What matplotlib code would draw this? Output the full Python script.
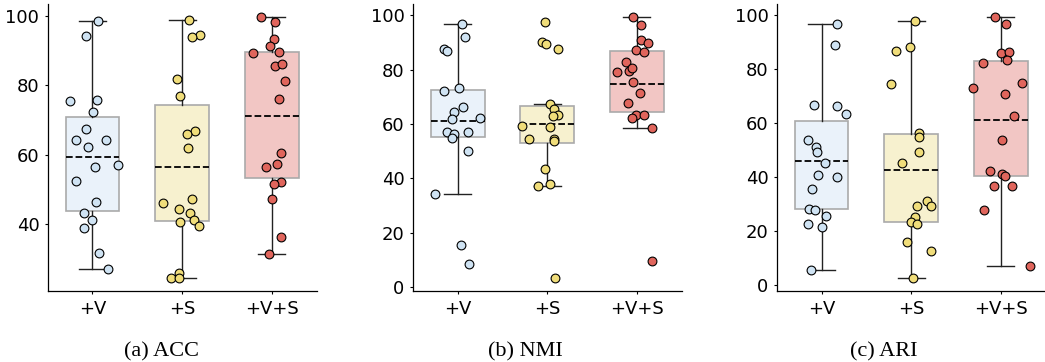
import matplotlib
matplotlib.use('Agg')
import matplotlib.pyplot as plt
import numpy as np

groups = ['+V', '+S', '+V+S']
panels = ['(a) ACC', '(b) NMI', '(c) ARI']

# points, per panel and group (values, jitter offset)
acc_v = [98.5, 94.2, 75.5, 75.8, 72.2, 67.4, 64.4, 64.2, 62.3, 57.2, 56.4, 52.5, 46.5, 43.1, 41.2, 38.9, 31.6, 27.1]
acc_v_jit = [0.06, -0.07, -0.25, 0.05, 0.01, -0.07, -0.18, 0.15, -0.05, 0.29, 0.03, -0.18, 0.04, -0.09, 0.0, -0.09, 0.07, 0.17]
acc_s = [98.8, 94.5, 93.9, 81.9, 77.0, 66.9, 66.1, 62.1, 47.2, 46.2, 44.4, 43.1, 41.3, 40.6, 39.4, 26.0, 24.4, 24.4]
acc_s_jit = [0.08, 0.20, 0.11, -0.06, -0.02, 0.14, 0.05, 0.07, 0.11, -0.21, -0.04, 0.09, 0.13, -0.02, 0.19, -0.04, -0.12, -0.04]
acc_vs = [99.7, 98.3, 93.5, 91.3, 89.3, 89.6, 85.7, 86.3, 81.3, 76.0, 60.5, 56.6, 57.4, 52.2, 51.6, 47.3, 36.3, 31.5]
acc_vs_jit = [-0.12, 0.04, 0.03, -0.02, -0.21, 0.08, 0.04, 0.11, 0.15, 0.08, 0.10, -0.06, 0.06, 0.10, 0.03, 0.0, 0.10, -0.03]

nmi_v = [96.9, 92.1, 87.7, 86.9, 72.0, 73.1, 66.1, 64.5, 61.9, 62.3, 57.2, 56.4, 57.2, 55.0, 49.9, 34.4, 15.5, 8.5]
nmi_v_jit = [0.05, 0.08, -0.15, -0.12, -0.15, 0.01, 0.06, -0.04, -0.06, 0.25, -0.12, -0.04, 0.12, -0.06, 0.12, -0.25, 0.04, 0.13]
nmi_s = [97.4, 90.2, 89.6, 87.7, 67.4, 65.4, 63.4, 62.8, 59.3, 58.8, 54.5, 54.4, 53.6, 43.6, 37.2, 38.1, 3.2]
nmi_s_jit = [-0.03, -0.06, -0.01, 0.12, 0.03, 0.07, 0.12, 0.06, -0.28, 0.03, -0.20, 0.07, 0.08, -0.03, -0.10, 0.03, 0.09]
nmi_vs = [99.4, 96.3, 90.9, 89.8, 87.1, 86.4, 82.8, 79.0, 79.7, 80.6, 75.6, 71.3, 67.9, 63.5, 63.5, 62.2, 58.4, 9.6]
nmi_vs_jit = [-0.04, 0.04, 0.05, 0.12, -0.01, 0.08, -0.12, -0.22, -0.09, -0.06, -0.04, 0.03, -0.10, -0.01, 0.08, -0.05, 0.17, 0.17]

ari_v = [96.9, 89.2, 66.8, 66.3, 63.3, 53.7, 51.2, 49.3, 45.2, 40.9, 40.0, 35.6, 28.3, 27.9, 25.5, 22.4, 21.3, 5.6]
ari_v_jit = [0.17, 0.15, -0.08, 0.17, 0.27, -0.15, -0.06, -0.05, 0.04, -0.04, 0.17, -0.11, -0.14, -0.07, 0.05, -0.15, 0.01, -0.12]
ari_s = [97.8, 86.9, 88.1, 74.6, 56.5, 54.8, 49.3, 45.1, 31.2, 29.4, 29.1, 25.3, 23.3, 22.4, 16.0, 12.6, 2.4]
ari_s_jit = [0.04, -0.17, -0.01, -0.23, 0.09, 0.09, 0.09, -0.10, 0.18, 0.22, 0.06, 0.04, 0.0, 0.06, -0.05, 0.22, 0.02]
ari_vs = [99.4, 96.7, 86.2, 86.5, 83.3, 82.4, 73.2, 75.1, 70.9, 62.7, 53.7, 42.4, 41.0, 40.3, 36.7, 36.7, 27.9, 7.1]
ari_vs_jit = [-0.07, 0.06, 0.0, 0.09, 0.07, -0.20, -0.31, 0.23, 0.05, 0.15, 0.01, -0.12, 0.01, 0.05, -0.08, 0.12, -0.19, 0.32]

# box stats: q1, middle (dashed), q3, whisker low, whisker high
acc_box = [[43.9, 59.4, 71.0, 27.1, 98.5],
           [40.8, 56.6, 74.4, 24.4, 98.8],
           [53.4, 71.3, 89.5, 31.5, 99.7]]
nmi_box = [[55.3, 61.1, 72.7, 34.4, 96.9],
           [53.2, 60.0, 66.8, 37.2, 67.3],
           [64.6, 74.7, 87.0, 58.4, 99.4]]
ari_box = [[28.0, 46.0, 60.8, 5.6, 96.9],
           [23.2, 42.5, 55.9, 2.4, 97.8],
           [40.5, 61.3, 83.1, 7.1, 99.4]]

box_colors = ['#eaf2fa', '#f7f1cf', '#f2c6c4']
point_colors = ['#cfe3f3', '#f0dd7a', '#e0655c']

data = [
    (acc_box, [(acc_v, acc_v_jit), (acc_s, acc_s_jit), (acc_vs, acc_vs_jit)]),
    (nmi_box, [(nmi_v, nmi_v_jit), (nmi_s, nmi_s_jit), (nmi_vs, nmi_vs_jit)]),
    (ari_box, [(ari_v, ari_v_jit), (ari_s, ari_s_jit), (ari_vs, ari_vs_jit)]),
]

fig = plt.figure(figsize=(10.45, 3.62), dpi=100)
lefts = [0.0456, 0.395, 0.7433]
caption_x = [0.1545, 0.503, 0.846]

for p in range(3):
    ax = fig.add_axes([lefts[p], 0.195, 0.2574, 0.794])
    boxes, pts = data[p]
    stats = []
    for i, b in enumerate(boxes):
        stats.append({'q1': b[0], 'med': b[1], 'q3': b[2],
                      'whislo': b[3], 'whishi': b[4], 'label': groups[i]})
    bp = ax.bxp(stats, positions=range(3), widths=0.6, showfliers=False,
                patch_artist=True,
                boxprops=dict(edgecolor='#aaaaaa', linewidth=1.2),
                whiskerprops=dict(color='#222222', linewidth=1.0),
                capprops=dict(color='#222222', linewidth=1.0),
                medianprops=dict(color='black', linestyle='--', linewidth=1.3))
    for patch, c in zip(bp['boxes'], box_colors):
        patch.set_facecolor(c)
    for i, (vals, jit) in enumerate(pts):
        xs = i + np.array(jit)
        ax.scatter(xs, vals, s=40, color=point_colors[i], edgecolor='black',
                   linewidth=0.8, zorder=5)
    ax.set_xlim(-0.5, 2.5)
    ax.set_xticks(range(3))
    ax.set_xticklabels(groups)
    ax.spines['top'].set_visible(False)
    ax.spines['right'].set_visible(False)
    ax.spines['left'].set_linewidth(0.9)
    ax.spines['bottom'].set_linewidth(0.9)
    ax.tick_params(labelsize=13, length=2.5, width=0.8, pad=3.5)
    fig.text(caption_x[p], 0.014, panels[p], ha='center', va='baseline',
             family='Liberation Serif', fontsize=16)

fig.savefig('out.png', dpi=100)
